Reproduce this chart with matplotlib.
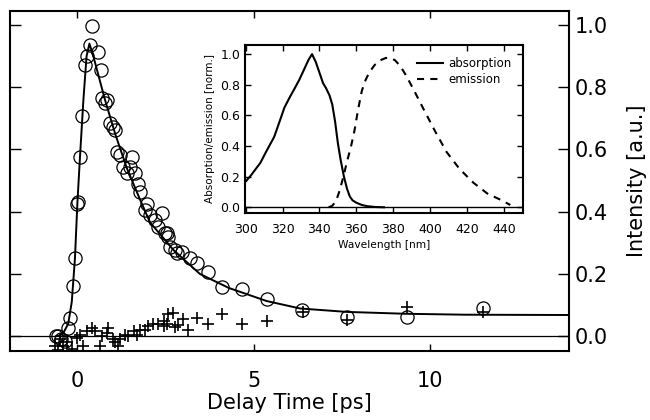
import matplotlib
matplotlib.use("Agg")
import matplotlib.pyplot as plt

# --- main panel: transient intensity vs delay time ---
circ_t = [-0.6, -0.53, -0.45, -0.35, -0.25, -0.2, -0.12, -0.06, 0.01, 0.04,
          0.085, 0.15, 0.23, 0.27, 0.37, 0.42, 0.58, 0.67, 0.7, 0.8, 0.84,
          0.93, 1.03, 1.08, 1.12, 1.22, 1.31, 1.41, 1.5, 1.55, 1.64, 1.74,
          1.79, 1.93, 1.98, 2.07, 2.2, 2.3, 2.4, 2.49, 2.54, 2.59, 2.63, 2.78,
          2.82, 2.97, 3.2, 3.41, 3.7, 4.1, 4.67, 5.39, 6.38, 7.64, 9.34, 11.5]
circ_y = [0.0, 0.0, -0.01, -0.015, 0.025, 0.057, 0.16, 0.25, 0.425, 0.432,
          0.577, 0.707, 0.87, 0.9, 0.936, 0.995, 0.914, 0.855, 0.764, 0.75, 0.759,
          0.686, 0.673, 0.662, 0.593, 0.582, 0.544, 0.523, 0.544, 0.577, 0.523, 0.49,
          0.464, 0.405, 0.424, 0.389, 0.373, 0.351, 0.395, 0.33, 0.33, 0.319, 0.287, 0.277,
          0.266, 0.271, 0.25, 0.234, 0.207, 0.157, 0.15, 0.118, 0.084, 0.062, 0.062, 0.09]

cross_t = [-0.62, -0.55, -0.48, -0.39, -0.29, -0.15, -0.01, 0.08, 0.18, 0.27,
           0.42, 0.5, 0.65, 0.7, 0.84, 0.89, 1.03, 1.08, 1.17, 1.22, 1.36,
           1.45, 1.6, 1.69, 1.79, 1.93, 2.02, 2.16, 2.3, 2.45, 2.45, 2.55,
           2.59, 2.73, 2.78, 2.87, 3.01, 3.15, 3.39, 3.72, 4.1, 4.67, 5.37,
           6.41, 7.64, 9.34, 11.5]
cross_y = [-0.03, -0.045, -0.01, -0.03, -0.02, -0.04, -0.005, 0.005, -0.03, 0.016,
           0.027, 0.016, -0.03, 0.0, 0.01, 0.027, -0.01, -0.02, -0.03, -0.01, 0.005,
           0.0, 0.016, 0.005, 0.02, 0.02, 0.032, 0.038, 0.04, 0.048, 0.032, 0.04,
           0.07, 0.075, 0.03, 0.037, 0.054, 0.02, 0.06, 0.038, 0.07, 0.038, 0.048,
           0.078, 0.051, 0.094, 0.078]

fit_t = [-0.6, -0.5, -0.39, -0.25, -0.15, -0.06, 0.01, 0.085, 0.18, 0.27, 0.35,
         0.46, 0.79, 1.08, 1.41, 1.78, 2.07, 2.26, 2.73, 3.48, 4.3, 5.37, 6.32,
         7.64, 9.3, 11.0, 14.0]
fit_y = [0.0, 0.002, 0.01, 0.04, 0.11, 0.25, 0.43, 0.58, 0.76, 0.90, 0.94,
         0.90, 0.76, 0.65, 0.54, 0.44, 0.365, 0.34, 0.277, 0.20, 0.155, 0.113, 0.089,
         0.078, 0.072, 0.069, 0.068]

# --- inset: steady-state spectra ---
abs_wl = [300.2, 303, 308, 311, 315.5, 319, 321, 324, 326.3, 329, 331.7, 334,
          336, 338, 340, 342, 343.5, 345.5, 347, 348.5, 350, 351.5, 353.3, 355,
          356.5, 358, 360, 363, 366, 370, 375]
abs_y = [0.17, 0.21, 0.29, 0.36, 0.46, 0.58, 0.65, 0.72, 0.77, 0.83, 0.9, 0.96,
         1.0, 0.95, 0.88, 0.81, 0.78, 0.73, 0.67, 0.56, 0.42, 0.31, 0.2, 0.12,
         0.07, 0.045, 0.03, 0.015, 0.007, 0.002, 0.0]

em_wl = [345, 347, 349, 351, 353, 355, 357, 359, 361, 363, 365, 367, 370, 373,
         376, 378.5, 381, 384, 387, 391, 396.5, 403, 409, 416, 423.5, 431, 438, 443.5]
em_y = [0.0, 0.01, 0.04, 0.11, 0.2, 0.3, 0.39, 0.5, 0.64, 0.76, 0.83, 0.88, 0.93,
        0.96, 0.975, 0.975, 0.96, 0.92, 0.86, 0.77, 0.64, 0.49, 0.36, 0.25, 0.16,
        0.09, 0.05, 0.015]

fig = plt.figure(figsize=(6.5, 4.2), dpi=100)
ax = fig.add_axes([0.0154, 0.164, 0.86, 0.81])

ax.axhline(0, color="black", lw=0.9, zorder=1)
ax.plot(fit_t, fit_y, color="black", lw=1.4, zorder=2)
ax.plot(circ_t, circ_y, "o", mfc="none", mec="black", ms=9.5, mew=0.9, zorder=3)
ax.plot(cross_t, cross_y, "+", color="black", ms=8, mew=1.2, zorder=3)

ax.set_xlim(-1.9, 13.94)
ax.set_ylim(-0.048, 1.045)
ax.set_xticks([0, 5, 10])
ax.set_yticks([0.0, 0.2, 0.4, 0.6, 0.8, 1.0])
ax.set_yticklabels(["0.0", "0.2", "0.4", "0.6", "0.8", "1.0"])
ax.tick_params(axis="x", direction="in", top=True, length=5, width=1, labelsize=15, pad=14)
ax.tick_params(axis="y", direction="in", left=True, right=True, labelleft=False,
               labelright=True, length=8, width=1, labelsize=15, pad=4)
for s in ax.spines.values():
    s.set_linewidth(1.5)
ax.set_xlabel("Delay Time [ps]", fontsize=15, labelpad=2)
ax.yaxis.set_label_position("right")
ax.set_ylabel("Intensity [a.u.]", fontsize=15, labelpad=14)

ins = fig.add_axes([0.377, 0.493, 0.428, 0.4])
ins.axhline(0, color="black", lw=1.0, zorder=1)
ins.plot(abs_wl, abs_y, color="black", lw=1.5, label="absorption")
ins.plot(em_wl, em_y, color="black", lw=1.5, dashes=(3.4, 3.0), label="emission")
ins.set_xlim(299.7, 450.5)
ins.set_ylim(-0.037, 1.06)
ins.set_xticks(range(300, 441, 20))
ins.set_yticks([0.0, 0.2, 0.4, 0.6, 0.8, 1.0])
ins.set_yticklabels(["0.0", "0.2", "0.4", "0.6", "0.8", "1.0"])
ins.tick_params(direction="in", top=True, right=True, length=4, width=1,
                labelsize=9)
ins.tick_params(axis="x", pad=7)
for s in ins.spines.values():
    s.set_linewidth(1.5)
ins.set_xlabel("Wavelength [nm]", fontsize=7.7, labelpad=3)
ins.set_ylabel("Absorption/emission [norm.]", fontsize=7.5, labelpad=4)
ins.legend(loc="upper right", frameon=False, fontsize=8.5, handlelength=2.2,
           handletextpad=0.4, labelspacing=0.3, borderaxespad=0.6)

fig.savefig("out.png", dpi=100)
